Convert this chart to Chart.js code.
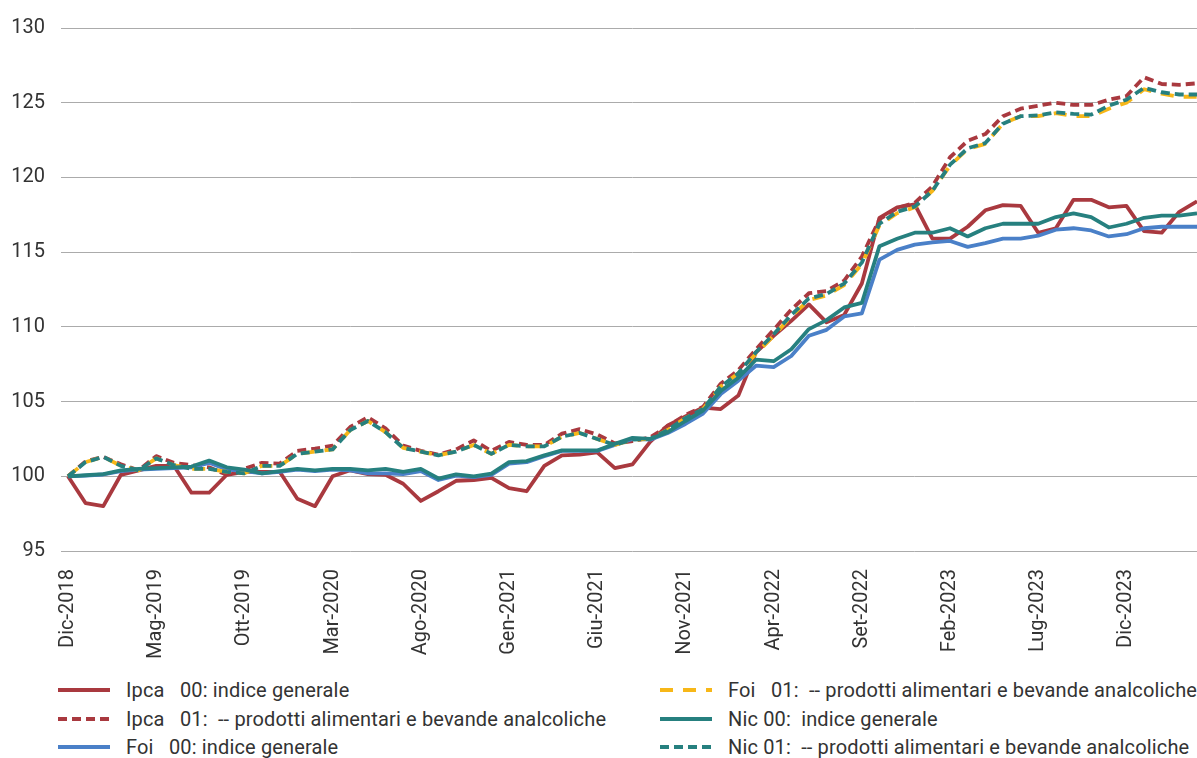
<!DOCTYPE html>
<html lang="it">
<head>
<meta charset="utf-8">
<title>Indici dei prezzi al consumo</title>
<script src="https://cdn.jsdelivr.net/npm/chart.js@4.4.1/dist/chart.umd.min.js"></script>
<style>
    html, body { margin: 0; padding: 0; background: #fff; overflow: hidden; }
    #wrap { position: relative; width: 1197px; height: 758px; overflow: hidden; }
    #chartBox { position: absolute; left: 0; top: 0; width: 1197px; height: 662px; }
    .legend-item {
        position: absolute;
        height: 26px;
        display: flex;
        align-items: center;
        font-family: Roboto, 'Noto Sans', sans-serif;
        font-size: 20px;
        letter-spacing: 0.15px;
        color: #333;
        white-space: pre;
    }
    .legend-item svg { margin-right: 16px; }
</style>
</head>
<body>
<div id="wrap">
    <div id="chartBox"><canvas id="priceChart"></canvas></div>
    <div id="legend"></div>
</div>
<script>
// Mesi (categorie)
const MONTHS = [
    'Dic-2018',
    'Gen-2019', 'Feb-2019', 'Mar-2019', 'Apr-2019', 'Mag-2019', 'Giu-2019', 'Lug-2019', 'Ago-2019', 'Set-2019', 'Ott-2019', 'Nov-2019', 'Dic-2019',
    'Gen-2020', 'Feb-2020', 'Mar-2020', 'Apr-2020', 'Mag-2020', 'Giu-2020', 'Lug-2020', 'Ago-2020', 'Set-2020', 'Ott-2020', 'Nov-2020', 'Dic-2020',
    'Gen-2021', 'Feb-2021', 'Mar-2021', 'Apr-2021', 'Mag-2021', 'Giu-2021', 'Lug-2021', 'Ago-2021', 'Set-2021', 'Ott-2021', 'Nov-2021', 'Dic-2021',
    'Gen-2022', 'Feb-2022', 'Mar-2022', 'Apr-2022', 'Mag-2022', 'Giu-2022', 'Lug-2022', 'Ago-2022', 'Set-2022', 'Ott-2022', 'Nov-2022', 'Dic-2022',
    'Gen-2023', 'Feb-2023', 'Mar-2023', 'Apr-2023', 'Mag-2023', 'Giu-2023', 'Lug-2023', 'Ago-2023', 'Set-2023', 'Ott-2023', 'Nov-2023', 'Dic-2023',
    'Gen-2024', 'Feb-2024', 'Mar-2024', 'Apr-2024'
];
const TICK_STEP = 5; // un'etichetta ogni 5 mesi

// Serie (indice Dic-2018 = 100)
const IPCA_00 = [
    100.0, 98.2, 98.0, 100.1, 100.4, 100.7, 100.7, 98.9, 98.9, 100.1, 100.3, 100.3, 100.3,
    98.5, 98.0, 100.0, 100.4, 100.15, 100.1, 99.5, 98.35, 99.0, 99.7, 99.75, 99.9,
    99.2, 99.0, 100.7, 101.4, 101.45, 101.6, 100.55, 100.8, 102.3, 103.4, 104.0, 104.6,
    104.5, 105.4, 108.3, 109.4, 110.4, 111.5, 110.3, 110.8, 112.9, 117.3, 118.0, 118.2,
    115.9, 115.9, 116.7, 117.8, 118.15, 118.1, 116.3, 116.6, 118.5, 118.5, 118.0, 118.1,
    116.4, 116.3, 117.7, 118.4
];
const IPCA_01 = [
    100.0, 101.0, 101.3, 100.8, 100.4, 101.35, 100.9, 100.75, 100.6, 100.1, 100.5, 100.9, 100.85,
    101.7, 101.85, 102.05, 103.3, 103.95, 103.2, 102.05, 101.7, 101.45, 101.8, 102.4, 101.7,
    102.3, 102.1, 102.1, 102.85, 103.15, 102.8, 102.2, 102.35, 102.6, 103.35, 104.1, 104.65,
    106.2, 107.1, 108.5, 109.8, 111.15, 112.25, 112.4, 113.1, 114.7, 117.2, 117.95, 118.3,
    119.4, 121.35, 122.45, 122.9, 124.1, 124.6, 124.8, 125.0, 124.85, 124.85, 125.2, 125.45,
    126.7, 126.25, 126.2, 126.3
];
const FOI_00 = [
    100.0, 100.05, 100.12, 100.35, 100.45, 100.5, 100.55, 100.6, 100.9, 100.45, 100.35, 100.2, 100.3,
    100.45, 100.35, 100.45, 100.4, 100.2, 100.2, 100.15, 100.35, 99.75, 100.05, 99.95, 100.1,
    100.85, 100.95, 101.35, 101.7, 101.7, 101.7, 102.1, 102.5, 102.45, 102.9, 103.5, 104.2,
    105.5, 106.4, 107.4, 107.3, 108.05, 109.4, 109.8, 110.7, 110.9, 114.5, 115.15, 115.5,
    115.65, 115.75, 115.35, 115.6, 115.9, 115.9, 116.1, 116.5, 116.6, 116.45, 116.05, 116.2,
    116.6, 116.7, 116.7, 116.7
];
const FOI_01 = [
    100.0, 100.95, 101.3, 100.7, 100.4, 101.2, 100.75, 100.5, 100.5, 100.3, 100.2, 100.7, 100.7,
    101.5, 101.65, 101.8, 103.1, 103.7, 102.95, 101.9, 101.65, 101.4, 101.65, 102.1, 101.5,
    102.1, 102.0, 102.0, 102.65, 102.9, 102.5, 102.1, 102.45, 102.5, 103.1, 103.9, 104.5,
    106.0, 106.9, 108.2, 109.4, 110.7, 111.8, 112.1, 112.8, 114.2, 116.8, 117.6, 118.0,
    119.1, 120.8, 121.9, 122.25, 123.6, 124.1, 124.1, 124.3, 124.1, 124.1, 124.6, 125.0,
    125.9, 125.6, 125.4, 125.4
];
const NIC_00 = [
    100.0, 100.07, 100.15, 100.4, 100.5, 100.55, 100.6, 100.65, 101.05, 100.6, 100.45, 100.2, 100.35,
    100.5, 100.4, 100.5, 100.5, 100.4, 100.5, 100.3, 100.5, 99.85, 100.13, 100.0, 100.18,
    100.95, 101.02, 101.4, 101.73, 101.73, 101.73, 102.17, 102.57, 102.5, 102.95, 103.7, 104.4,
    105.7, 106.6, 107.8, 107.7, 108.5, 109.85, 110.45, 111.3, 111.6, 115.4, 115.9, 116.3,
    116.3, 116.6, 116.05, 116.6, 116.9, 116.9, 116.9, 117.35, 117.6, 117.35, 116.65, 116.9,
    117.3, 117.45, 117.45, 117.6
];
const NIC_01 = [
    100.0, 100.95, 101.3, 100.7, 100.4, 101.2, 100.75, 100.5, 100.5, 100.3, 100.2, 100.7, 100.7,
    101.5, 101.65, 101.8, 103.1, 103.7, 102.95, 101.9, 101.65, 101.4, 101.65, 102.1, 101.5,
    102.1, 102.0, 102.0, 102.65, 102.9, 102.5, 102.1, 102.45, 102.5, 103.1, 103.9, 104.5,
    106.0, 106.9, 108.3, 109.5, 110.8, 111.9, 112.2, 112.9, 114.3, 116.9, 117.7, 118.05,
    119.1, 120.85, 121.95, 122.3, 123.6, 124.1, 124.15, 124.35, 124.25, 124.2, 124.8, 125.2,
    126.0, 125.7, 125.55, 125.55
];

// Asse Y
const Y_MIN = 95;
const Y_MAX = 130;
const Y_STEP = 5;

// Colori
const COLORS = {
    red: '#a9393f',
    blue: '#4a80c8',
    yellow: '#f7b718',
    teal: '#26807f'
};
const FONT = "Roboto, 'Noto Sans', sans-serif";

// Definizione serie: order basso = disegnata sopra
const SERIES = [
    { label: 'Ipca   00: indice generale', data: IPCA_00, color: COLORS.red, dash: [], order: 5 },
    { label: 'Ipca   01:  -- prodotti alimentari e bevande analcoliche', data: IPCA_01, color: COLORS.red, dash: [9, 5], order: 4 },
    { label: 'Foi   00: indice generale', data: FOI_00, color: COLORS.blue, dash: [], order: 3 },
    { label: 'Foi   01:  -- prodotti alimentari e bevande analcoliche', data: FOI_01, color: COLORS.yellow, dash: [13, 10], order: 2 },
    { label: 'Nic 00:  indice generale', data: NIC_00, color: COLORS.teal, dash: [], order: 1 },
    { label: 'Nic 01:  -- prodotti alimentari e bevande analcoliche', data: NIC_01, color: COLORS.teal, dash: [9, 5], order: 0 }
];

const ctx = document.getElementById('priceChart').getContext('2d');
const priceChart = new Chart(ctx, {
    type: 'line',
    data: {
        labels: MONTHS,
        datasets: SERIES.map(s => ({
            label: s.label,
            data: s.data,
            borderColor: s.color,
            backgroundColor: s.color,
            borderWidth: 3.8,
            borderDash: s.dash,
            borderCapStyle: 'butt',
            borderJoinStyle: 'round',
            pointRadius: 0,
            tension: 0,
            fill: false,
            order: s.order
        }))
    },
    options: {
        responsive: true,
        maintainAspectRatio: false,
        animation: false,
        layout: { padding: { top: 25, right: 0, left: 0, bottom: 0 } },
        plugins: {
            legend: { display: false },
            tooltip: { enabled: false }
        },
        scales: {
            x: {
                grid: { display: false },
                border: { display: false },
                ticks: {
                    autoSkip: false,
                    minRotation: 90,
                    maxRotation: 90,
                    padding: 10,
                    color: '#333',
                    font: { family: FONT, size: 20 },
                    callback: function (value, index) {
                        return index % TICK_STEP === 0 ? this.getLabelForValue(value) : '';
                    }
                },
                afterFit: scale => {
                    scale.height = 111;
                    scale.paddingLeft = 0;
                    scale.paddingRight = 0;
                }
            },
            y: {
                min: Y_MIN,
                max: Y_MAX,
                border: { display: false },
                grid: {
                    color: '#ababab',
                    lineWidth: 1,
                    drawTicks: true,
                    tickLength: 7
                },
                ticks: {
                    stepSize: Y_STEP,
                    padding: 16,
                    color: '#333',
                    font: { family: FONT, size: 20 }
                },
                afterFit: scale => {
                    scale.width = 68;
                }
            }
        }
    }
});

// Legenda HTML in due colonne
function buildLegend() {
    const legend = document.getElementById('legend');
    const cols = [58, 660];
    const rows = [690, 719, 747];
    SERIES.forEach((s, i) => {
        const col = Math.floor(i / 3);
        const row = i % 3;
        const item = document.createElement('div');
        item.className = 'legend-item';
        item.style.left = cols[col] + 'px';
        item.style.top = (rows[row] - 13) + 'px';
        const dash = s.dash.length ? s.dash.join(' ') : 'none';
        item.innerHTML =
            `<svg width="52" height="8"><line x1="0" y1="4" x2="52" y2="4" stroke="${s.color}" stroke-width="4" stroke-dasharray="${dash}"/></svg>` +
            `<span></span>`;
        item.querySelector('span').textContent = s.label;
        legend.appendChild(item);
    });
}
buildLegend();
</script>
</body>
</html>
